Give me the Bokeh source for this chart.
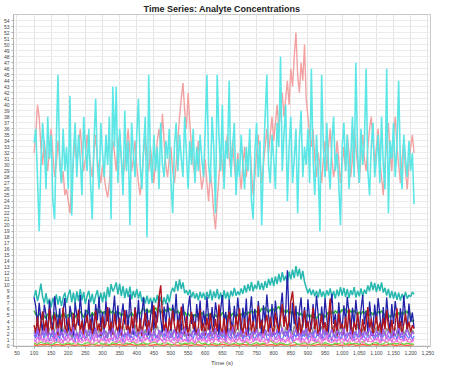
from bokeh.plotting import figure
from bokeh.models import Range1d, FixedTicker, NumeralTickFormatter
from bokeh.embed import file_html
from bokeh.resources import INLINE

TITLE = "Time Series: Analyte Concentrations"
X_LABEL = "Time (s)"
T0 = 100
STEP_FINE = 5
STEP_COARSE = 10
X_TICKS = list(range(50, 1251, 50))
Y_TICKS = list(range(0, 55))

cyan_vals = [
    33.7, 36, 28, 19, 30, 37, 33, 26, 38, 31, 35, 24, 21, 34, 45, 30, 27, 36, 29, 33,
    26, 41.5, 21.6, 32, 37, 28, 35, 31, 25, 38, 33, 29, 36, 27, 21, 34, 41, 30, 26, 37,
    32, 28, 35, 30, 38, 21, 43, 33, 43, 27, 36, 31, 25, 39, 29, 34, 20, 37, 32, 28,
    35, 41, 30, 26, 33, 38, 18, 45, 31, 27, 35, 29, 33, 26, 37, 30, 28, 34, 31, 36,
    27, 22, 33, 37, 29, 35, 31, 28, 38, 32, 26, 34, 30, 36, 27, 33, 29, 35, 31, 28,
    36, 45, 30, 27, 38, 33, 22, 45, 35, 29, 40, 26, 34, 31, 44, 28, 33, 37, 25, 31,
    28, 35, 30, 26, 33, 29, 36, 24, 21, 32, 37, 28, 34, 20, 31, 38, 45, 30, 27, 35,
    31, 26, 37, 33, 48, 29, 35, 40, 24, 33, 38, 27, 31, 36, 22, 34, 39, 28, 33, 30,
    36, 27, 46, 31, 25, 35, 29, 19, 45, 33, 28, 37, 30, 26, 34, 38, 29, 32, 27, 20,
    33, 37, 29, 35, 26, 31, 38, 28, 47, 32, 27, 36, 30, 34, 46, 29, 25, 33, 37, 28,
    31, 35, 27, 38, 30, 26, 46, 22, 34, 31, 37, 28, 33, 44, 30, 26, 35, 31, 28, 34,
    29, 32, 23.5,
]

salmon_vals = [
    32, 35, 40, 38, 33, 30, 34, 31, 29, 33, 36, 32, 28, 30, 34, 31, 27, 29, 25, 26,
    24, 22, 27, 31, 34, 30, 33, 36, 32, 29, 31, 35, 33, 30, 28, 32, 35, 31, 29, 27,
    30, 28, 26, 24.6, 27, 31, 34, 32, 29, 33, 35, 31, 28, 30, 33, 36, 32, 29, 31, 34,
    30, 27, 25, 28, 32, 35, 31, 29, 33, 30, 27, 31, 34, 36, 33, 38.5, 34, 30, 28, 31,
    33, 29, 27, 30, 34, 38, 41, 43.6, 39, 36, 42, 37, 33, 30, 28, 31, 34, 29, 26, 28,
    31, 27, 24, 29, 26, 22, 19.3, 24, 28, 32, 30, 27, 33, 35, 31, 29, 34, 30, 27, 32,
    29, 26, 30, 33, 28, 31, 34, 29, 25, 28, 32, 35, 31, 27, 30, 33, 36, 32, 35, 38,
    34, 37, 40, 36, 39, 42, 38, 41, 44, 40, 46, 43, 48, 52, 45, 42, 47, 44, 50, 41,
    38, 35, 33, 36, 31, 28, 32, 30, 27, 31, 34, 29, 33, 36, 31, 28, 30, 34, 31, 27,
    30, 33, 29, 35, 32, 28, 31, 36, 33, 30, 27, 32, 35, 31, 29, 33, 36, 38, 34, 30,
    33, 36, 31, 28, 25, 30, 34, 37, 32, 29, 35, 38, 33, 30, 27, 31, 34, 29, 26, 30,
    33, 35, 32,
]

teal_vals = [
    8.0, 9.2, 7.4, 8.6, 10.3, 8.1, 7.0, 8.7, 6.9, 7.8, 6.4, 7.9, 7.0, 8.5, 6.8, 8.2, 6.6, 7.9, 8.8, 7.1,
    8.4, 9.3, 7.2, 8.8, 7.0, 9.0, 7.4, 9.4, 7.5, 8.9, 6.9, 8.3, 9.1, 7.2, 8.6, 6.9, 8.3, 9.2, 7.3, 8.8,
    7.2, 8.9, 7.4, 9.7, 8.1, 10.2, 9.0, 9.6, 10.5, 8.5, 10.3, 8.2, 9.9, 7.9, 9.5, 8.1, 9.8, 7.7, 9.1, 8.0,
    9.4, 7.8, 9.0, 7.3, 8.1, 7.0, 8.3, 6.9, 7.9, 6.8, 8.0, 7.1, 8.4, 6.8, 8.1, 6.7, 8.0, 6.9, 8.5, 7.2,
    8.8, 9.6, 8.9, 10.7, 9.1, 11.0, 9.4, 10.5, 8.7, 9.2, 8.4, 9.3, 8.0, 8.9, 7.8, 8.7, 7.5, 8.9, 7.9, 8.8,
    7.6, 8.9, 7.8, 9.3, 7.5, 9.0, 7.9, 9.4, 7.7, 8.8, 7.4, 9.2, 7.8, 8.9, 7.6, 9.1, 8.2, 9.6, 8.3, 9.0,
    8.4, 9.5, 8.6, 10.0, 8.8, 10.2, 9.1, 10.6, 9.0, 10.1, 9.4, 10.8, 9.3, 10.4, 9.2, 10.7, 9.6, 11.1, 10.0, 11.3,
    9.9, 11.5, 10.2, 11.9, 10.5, 12.2, 10.8, 11.6, 10.4, 12.3, 11.0, 12.6, 11.2, 13.2, 11.5, 12.8, 11.0, 12.4, 10.6, 9.6,
    8.7, 9.5, 8.4, 9.3, 8.2, 9.1, 8.0, 9.4, 8.1, 9.0, 7.9, 9.2, 8.3, 9.5, 8.0, 9.1, 7.8, 9.3, 8.2, 9.7,
    8.3, 9.6, 8.1, 9.4, 7.9, 9.2, 8.4, 9.7, 8.0, 9.1, 8.2, 9.5, 8.1, 9.3, 8.6, 10.0, 9.0, 10.6, 9.2, 10.4,
    8.9, 10.2, 9.1, 10.5, 8.8, 9.6, 8.3, 9.4, 7.9, 9.1, 7.8, 8.9, 7.6, 8.8, 7.5, 8.6, 7.7, 8.9, 7.8, 8.4,
    8.1, 8.9, 8.5,
]

green_vals = [
    5.8, 5.2, 4.6, 5.4, 4.9, 4.3, 5.0, 4.5, 5.3, 4.8, 4.2, 4.9, 5.5, 4.7, 5.1, 4.4, 4.9, 5.6, 5.0, 4.6,
    5.2, 4.8, 5.5, 5.1, 4.6, 5.3, 4.9, 5.7, 5.2, 4.7, 5.4, 5.9, 5.3, 4.8, 5.5, 5.0, 5.6, 6.1, 5.4, 5.8,
    5.2, 5.7, 5.1, 5.6, 6.0, 5.4, 5.8, 5.2, 5.7, 5.1, 5.5, 4.9, 5.3, 4.8, 5.2, 4.6, 5.0, 5.5, 4.9, 5.4,
    5.0, 5.6, 5.2, 5.8, 6.2, 5.7, 6.1, 5.5, 5.9, 5.3, 5.8, 6.3, 5.7, 6.0, 5.4, 5.9, 5.5, 6.0, 5.6, 6.2,
    5.8, 6.3, 5.9, 5.4, 5.8, 5.3, 5.7, 5.1, 5.6, 5.0, 5.4, 4.9, 5.3, 4.7, 5.2, 4.8, 5.3, 4.9, 5.5, 5.1,
    4.7, 5.2, 4.8, 5.4, 5.0, 4.6, 5.1, 4.7, 5.3, 4.9, 5.5, 5.1, 4.6, 5.0, 4.5, 4.9, 5.4, 5.0, 4.6, 5.2,
    4.8, 5.3, 4.9, 5.5, 5.1, 5.6, 5.2, 5.8, 5.4, 5.9, 5.5, 6.0, 5.6, 6.2, 5.8, 6.3, 5.9, 5.5, 6.0, 5.6,
    6.1, 5.7, 6.2, 6.5, 5.9, 6.3, 5.8, 5.4, 5.9, 5.3, 5.7, 5.2, 5.6, 5.1, 5.5, 5.0, 5.4, 4.9, 5.3, 4.8,
    5.2, 4.7, 5.1, 4.6, 5.0, 4.5, 4.9, 5.3, 4.8, 5.2, 4.7, 5.1, 5.6, 5.2, 5.7, 5.3, 5.8, 5.4, 5.9, 5.5,
    6.0, 5.6, 6.1, 5.7, 5.3, 5.8, 5.4, 5.9, 5.5, 5.1, 5.6, 5.2, 5.7, 5.3, 5.8, 5.4, 5.0, 5.5, 5.1, 5.6,
    5.2, 5.7, 5.3, 5.8, 5.4, 5.0, 5.5, 5.1, 4.7, 5.2, 4.8, 5.3, 4.9, 5.5, 5.0, 5.6, 5.2, 5.8, 5.4, 6.0,
    4.5, 4.0, 4.3,
]

navy_vals = [
    8.0, 6.5, 3.2, 7.1, 4.4, 2.1, 6.8, 5.2, 1.9, 7.5, 4.1, 2.8, 8.2, 5.5, 3.0, 6.2, 1.8, 5.8, 7.9, 3.6,
    2.4, 6.6, 4.9, 1.7, 7.2, 5.0, 3.3, 8.4, 4.6, 2.2, 6.0, 3.8, 7.7, 2.6, 5.3, 1.9, 6.9, 4.2, 8.1, 3.1,
    5.6, 2.3, 7.4, 4.0, 6.3, 1.6, 5.1, 8.3, 3.4, 6.7, 2.0, 4.8, 7.0, 3.5, 5.9, 2.5, 8.5, 4.3, 1.8, 6.4,
    3.7, 7.6, 2.9, 5.4, 8.0, 3.2, 6.1, 1.7, 4.7, 7.3, 2.6, 5.7, 3.9, 8.2, 4.5, 2.1, 6.5, 3.3, 7.1, 5.0,
    2.4, 6.8, 4.1, 8.6, 3.0, 5.5, 1.9, 7.0, 4.4, 2.7, 6.2, 8.3, 3.6, 5.2, 1.8, 6.9, 4.0, 7.5, 2.5, 5.8,
    3.4, 8.1, 4.6, 2.0, 6.4, 3.1, 7.2, 5.1, 1.7, 6.0, 8.4, 3.8, 5.6, 2.3, 7.7, 4.2, 2.9, 6.6, 3.5, 8.0,
    4.9, 2.2, 6.3, 3.6, 7.8, 1.9, 5.4, 8.2, 3.3, 6.1, 2.5, 7.4, 4.5, 1.8, 6.7, 3.9, 8.5, 5.0, 2.6, 6.9,
    3.2, 7.5, 4.8, 2.1, 6.2, 8.8, 3.7, 5.5, 12.5, 4.0, 2.4, 7.1, 3.5, 6.6, 1.9, 5.8, 8.0, 3.0, 6.4, 2.3,
    7.7, 4.4, 2.7, 6.9, 3.8, 8.3, 5.1, 1.8, 6.5, 3.4, 7.9, 4.7, 2.2, 6.1, 8.6, 3.6, 5.3, 2.0, 7.2, 4.1,
    2.8, 6.7, 3.9, 8.1, 5.4, 1.9, 6.3, 3.2, 7.6, 4.6, 2.3, 6.0, 8.4, 3.5, 5.7, 2.1, 7.3, 4.3, 2.6, 6.8,
    3.7, 7.9, 5.2, 1.8, 6.4, 3.1, 8.0, 4.5, 2.4, 6.9, 3.6, 7.4, 5.0, 2.0, 6.2, 3.3, 8.3, 4.8, 2.7, 7.0,
    3.9, 5.5, 2.9,
]

crimson_vals = [
    3.4, 2.1, 4.8, 1.6, 3.9, 5.7, 2.4, 4.2, 1.9, 6.1, 3.0, 2.3, 5.2, 3.8, 1.7, 4.5, 2.8, 6.3, 3.3, 2.0,
    4.7, 3.1, 1.8, 5.4, 2.6, 3.9, 6.0, 2.2, 4.1, 1.5, 3.6, 5.1, 2.7, 4.4, 1.9, 3.2, 5.8, 2.5, 3.7, 1.6,
    4.9, 2.9, 3.5, 6.4, 2.1, 4.0, 1.8, 5.3, 3.2, 2.4, 4.6, 1.7, 3.8, 5.9, 2.6, 3.4, 1.9, 4.8, 2.8, 6.2,
    3.1, 2.0, 4.5, 1.6, 3.7, 5.5, 2.3, 4.2, 1.8, 3.3, 6.7, 2.9, 4.4, 8.1, 10.0, 5.2, 2.5, 3.9, 1.7, 4.6,
    2.7, 5.8, 3.4, 1.9, 4.3, 2.2, 6.5, 3.6, 2.0, 4.9, 1.6, 3.5, 5.6, 2.8, 4.0, 1.8, 3.1, 6.0, 2.4, 3.8,
    1.7, 4.7, 2.6, 5.3, 3.2, 1.9, 4.4, 2.3, 6.8, 3.0, 2.1, 4.6, 1.6, 3.9, 5.7, 2.5, 3.4, 1.8, 4.9, 2.7,
    6.2, 3.3, 2.0, 4.5, 1.7, 3.6, 5.4, 2.4, 4.1, 1.9, 3.2, 6.6, 2.8, 4.3, 1.6, 3.7, 5.1, 2.2, 4.8, 3.0,
    1.8, 5.5, 3.4, 2.3, 4.6, 6.9, 3.1, 5.0, 2.6, 4.2, 7.4, 9.0, 5.6, 3.3, 2.0, 4.7, 1.7, 3.8, 5.9, 2.5,
    4.1, 1.9, 3.5, 6.3, 2.7, 4.4, 1.6, 3.2, 5.2, 2.4, 3.9, 1.8, 4.6, 7.8, 3.0, 2.1, 4.3, 1.7, 5.4, 2.9,
    3.6, 1.9, 4.8, 2.3, 6.1, 3.4, 1.7, 4.0, 2.6, 5.5, 3.1, 1.8, 4.4, 2.2, 3.7, 6.4, 2.8, 4.5, 1.6, 3.3,
    5.0, 2.4, 3.8, 1.9, 4.6, 2.7, 5.9, 3.2, 2.0, 4.3, 1.7, 3.5, 6.2, 2.5, 4.1, 1.8, 3.6, 5.3, 2.6, 4.0,
    2.2, 3.4, 2.8,
]

gray_vals = [
    2.6, 1.9, 3.1, 2.2, 1.5, 2.8, 3.6, 2.0, 1.4, 2.7, 3.3, 1.8, 2.4, 3.9, 2.1, 1.6, 2.9, 2.3, 3.4, 1.7,
    2.5, 3.0, 1.3, 2.2, 3.5, 2.0, 1.7, 2.8, 3.2, 1.9, 2.4, 1.5, 3.1, 2.6, 1.8, 3.7, 2.3, 1.6, 2.9, 2.1,
    3.3, 1.9, 2.5, 1.4, 2.8, 3.4, 2.0, 1.7, 3.0, 2.4, 1.6, 2.9, 3.6, 2.2, 1.5, 2.7, 3.1, 1.8, 2.3, 3.5,
    2.1, 1.6, 2.8, 3.2, 1.9, 2.5, 1.4, 3.0, 2.2, 3.8, 1.7, 2.6, 3.3, 2.0, 1.5, 2.9, 2.4, 3.6, 1.8, 2.3,
    3.1, 1.6, 2.7, 2.1, 3.4, 1.9, 2.5, 3.0, 1.5, 2.8, 2.2, 3.5, 1.7, 2.4, 3.2, 2.0, 1.6, 2.9, 3.7, 2.1,
    1.8, 2.6, 3.3, 1.5, 2.3, 3.0, 1.9, 2.7, 3.6, 2.0, 1.6, 2.5, 3.2, 1.8, 2.9, 2.2, 3.4, 1.7, 2.4, 3.1,
    2.0, 1.5, 2.8, 3.5, 2.2, 1.8, 3.0, 2.5, 1.6, 2.9, 3.7, 2.1, 1.9, 2.6, 3.3, 1.7, 2.4, 3.0, 2.2, 1.5,
    2.7, 3.4, 1.9, 2.5, 3.9, 2.2, 1.6, 3.1, 2.4, 4.2, 2.8, 1.8, 3.3, 2.3, 1.7, 2.9, 3.6, 2.0, 2.6, 1.5,
    3.0, 2.3, 1.8, 2.8, 3.5, 2.1, 1.6, 2.6, 3.2, 1.9, 2.4, 3.7, 2.0, 1.7, 2.9, 3.3, 2.2, 1.5, 2.7, 3.1,
    1.9, 2.5, 3.4, 2.1, 1.6, 2.8, 3.0, 1.8, 2.3, 3.6, 2.0, 1.5, 2.7, 3.2, 2.2, 1.7, 2.9, 3.5, 1.9, 2.4,
    3.1, 1.6, 2.6, 3.3, 2.0, 1.8, 2.9, 2.3, 3.7, 1.7, 2.5, 3.0, 2.1, 1.5, 2.8, 3.4, 1.9, 2.4, 3.0, 2.2,
    1.7, 2.6, 2.1,
]

purple_vals = [
    2.2, 1.5, 2.8, 1.9, 1.2, 2.5, 1.7, 3.0, 1.4, 2.1, 1.8, 2.6, 1.1, 2.0, 2.9, 1.6, 2.3, 1.3, 2.7, 1.9,
    1.4, 2.4, 1.8, 3.1, 1.5, 2.2, 1.0, 2.6, 1.9, 1.3, 2.8, 2.0, 1.6, 2.5, 1.2, 2.1, 2.9, 1.7, 1.4, 2.3,
    1.8, 2.7, 1.3, 2.0, 2.5, 1.5, 3.0, 1.9, 1.2, 2.4, 1.7, 2.8, 1.4, 2.1, 1.6, 2.6, 1.1, 2.2, 2.9, 1.8,
    1.5, 2.3, 1.9, 2.7, 1.3, 2.0, 1.6, 3.2, 2.1, 1.4, 2.5, 1.8, 1.2, 2.6, 1.9, 2.2, 1.5, 2.9, 1.7, 2.4,
    1.3, 2.0, 2.7, 1.6, 2.3, 1.1, 2.5, 1.8, 3.0, 1.5, 2.1, 1.9, 1.4, 2.6, 2.0, 1.7, 2.8, 1.3, 2.2, 1.6,
    2.4, 1.9, 1.2, 2.7, 1.5, 2.2, 2.9, 1.7, 1.4, 2.3, 1.8, 2.6, 1.1, 2.0, 2.5, 1.6, 3.1, 1.9, 1.4, 2.2,
    1.7, 2.5, 1.3, 2.1, 2.8, 1.6, 2.0, 1.2, 2.4, 1.9, 2.7, 1.5, 2.2, 1.8, 1.3, 2.6, 2.0, 1.6, 2.9, 1.4,
    2.3, 1.8, 2.6, 1.2, 2.0, 3.0, 1.7, 2.4, 1.5, 2.8, 1.9, 1.3, 2.2, 2.7, 1.6, 2.1, 1.4, 2.5, 1.8, 2.9,
    1.5, 2.2, 1.9, 1.3, 2.6, 2.0, 1.6, 2.4, 1.1, 2.8, 1.8, 2.3, 1.4, 2.0, 2.7, 1.7, 1.3, 2.5, 1.9, 2.2,
    1.6, 2.9, 1.4, 2.1, 1.8, 2.6, 1.2, 2.3, 2.0, 1.5, 2.7, 1.9, 1.3, 2.4, 1.7, 2.2, 3.0, 1.6, 2.0, 1.4,
    2.5, 1.8, 2.2, 1.3, 2.8, 1.9, 1.5, 2.4, 2.0, 1.2, 2.6, 1.7, 2.1, 2.9, 1.6, 2.3, 1.4, 2.0, 2.7, 1.8,
    1.5, 2.2, 1.9,
]

violet_vals = [
    1.1, 0.6, 1.5, 0.9, 1.8, 0.7, 1.3, 0.5, 1.6, 1.0, 0.8, 1.4, 0.6, 1.9, 1.1, 0.7, 1.2, 0.4, 1.5, 0.9,
    1.7, 0.8, 1.3, 0.6, 1.0, 1.6, 0.5, 1.2, 0.9, 1.8, 0.7, 1.4, 1.0, 0.6, 1.5, 0.8, 2.0, 1.1, 0.5, 1.3,
    0.9, 1.6, 0.7, 1.2, 0.5, 1.4, 1.0, 1.8, 0.6, 1.1, 1.5, 0.8, 1.3, 0.4, 1.7, 0.9, 1.2, 0.6, 1.4, 1.0,
    0.7, 1.5, 1.1, 0.5, 1.9, 0.8, 1.3, 1.0, 0.6, 1.6, 0.9, 1.2, 0.5, 1.7, 1.1, 0.7, 1.4, 0.8, 2.1, 1.0,
    0.6, 1.3, 0.9, 1.6, 0.5, 1.2, 1.8, 0.7, 1.1, 0.8, 1.5, 0.6, 1.3, 1.0, 0.4, 1.7, 0.9, 1.2, 0.7, 1.4,
    1.0, 0.5, 1.6, 0.8, 1.3, 0.6, 1.9, 1.1, 0.7, 1.4, 0.9, 1.2, 0.5, 1.7, 1.0, 0.8, 1.5, 0.6, 1.2, 0.9,
    1.6, 0.7, 1.1, 0.5, 1.4, 1.0, 0.8, 1.8, 0.6, 1.3, 0.9, 1.5, 0.7, 1.2, 2.0, 0.8, 1.1, 0.5, 1.6, 1.0,
    0.7, 1.4, 0.9, 1.7, 0.6, 1.2, 1.0, 0.5, 1.5, 0.8, 1.9, 1.1, 0.7, 1.3, 0.9, 1.6, 0.6, 1.2, 0.8, 1.4,
    1.0, 0.5, 1.7, 0.8, 1.3, 0.6, 1.1, 1.5, 0.7, 1.2, 0.9, 1.8, 0.6, 1.0, 1.4, 0.7, 1.2, 0.5, 1.6, 0.9,
    1.3, 0.8, 1.5, 0.6, 1.1, 1.9, 0.7, 1.2, 0.9, 1.4, 0.5, 1.6, 1.0, 0.8, 1.3, 0.6, 1.7, 1.1, 0.7, 1.2,
    0.9, 1.5, 0.6, 1.3, 1.0, 0.7, 1.8, 0.8, 1.2, 0.5, 1.4, 1.0, 0.6, 1.6, 0.9, 1.1, 0.7, 1.5, 0.8, 1.2,
    1.0, 0.6, 1.3,
]

royal_vals = [
    1.8, 1.2, 2.4, 0.9, 1.6, 2.1, 1.0, 2.7, 1.4, 0.8, 1.9, 1.3, 2.3, 0.7, 1.7, 1.1, 2.5, 1.5, 0.9, 2.0,
    1.3, 2.6, 1.0, 1.8, 0.6, 2.2, 1.4, 1.9, 0.8, 2.4, 1.2, 1.6, 2.8, 1.0, 1.5, 0.7, 2.1, 1.3, 1.8, 1.1,
    2.3, 0.9, 1.7, 1.2, 2.6, 1.5, 0.8, 2.0, 1.4, 1.0, 2.5, 1.7, 0.6, 1.9, 1.3, 2.2, 1.1, 1.6, 0.9, 2.4,
    1.4, 1.8, 0.7, 2.1, 1.2, 2.7, 1.5, 1.0, 1.9, 0.8, 2.3, 1.3, 1.7, 1.0, 2.5, 1.6, 0.9, 2.0, 1.4, 1.1,
    2.2, 1.5, 0.8, 1.9, 1.2, 2.4, 1.0, 1.7, 2.9, 1.3, 0.7, 2.0, 1.6, 1.1, 2.3, 1.4, 0.9, 1.8, 1.2, 2.6,
    1.0, 1.6, 2.1, 0.8, 1.5, 1.2, 2.4, 1.7, 0.9, 2.0, 1.3, 1.8, 0.7, 2.2, 1.5, 1.1, 2.6, 1.4, 1.0, 1.9,
    1.2, 2.3, 0.8, 1.7, 1.4, 2.0, 1.1, 2.5, 1.6, 0.9, 1.8, 1.3, 2.2, 1.0, 1.5, 2.7, 1.2, 0.8, 1.9, 1.4,
    2.1, 1.0, 1.7, 2.4, 1.3, 0.9, 1.8, 1.5, 2.6, 1.1, 1.6, 0.7, 2.0, 1.4, 2.3, 1.2, 0.9, 1.9, 1.5, 2.2,
    1.0, 1.7, 1.3, 2.5, 0.8, 1.6, 2.0, 1.2, 1.8, 0.9, 2.3, 1.4, 1.1, 1.9, 0.7, 2.1, 1.5, 1.2, 2.6, 1.0,
    1.6, 2.0, 0.9, 1.4, 2.2, 1.1, 1.8, 0.8, 2.4, 1.3, 1.7, 1.0, 2.1, 1.5, 0.9, 1.9, 1.2, 2.5, 1.4, 1.0,
    1.8, 1.3, 2.3, 0.8, 1.6, 2.0, 1.1, 1.7, 0.9, 2.2, 1.4, 1.9, 1.0, 2.6, 1.3, 1.6, 0.8, 2.1, 1.5, 1.2,
    1.9, 1.0, 1.6,
]

pink_vals = [
    0.8, 0.4, 1.1, 0.6, 0.9, 0.3, 1.2, 0.7, 0.5, 1.0, 0.6, 1.3, 0.4, 0.8, 0.5, 1.1, 0.7, 0.3, 0.9, 0.6,
    1.0, 0.4, 1.2, 0.8, 0.5, 0.9, 0.3, 1.1, 0.6, 0.8, 0.4, 1.0, 0.7, 1.4, 0.5, 0.8, 0.6, 1.1, 0.4, 0.9,
    0.7, 0.3, 1.2, 0.6, 0.9, 0.5, 1.0, 0.4, 0.8, 1.3, 0.6, 0.9, 0.4, 1.1, 0.7, 0.5, 1.0, 0.3, 0.8, 0.6,
    1.2, 0.5, 0.9, 0.4, 0.7, 1.1, 0.6, 0.8, 0.3, 1.0, 0.7, 0.5, 1.2, 0.6, 0.9, 0.4, 0.8, 1.1, 0.5, 0.7,
    0.4, 1.0, 0.6, 0.9, 0.3, 1.3, 0.7, 0.5, 0.8, 1.0, 0.4, 0.9, 0.6, 1.1, 0.5, 0.8, 0.3, 1.0, 0.7, 0.6,
    1.2, 0.4, 0.9, 0.6, 1.0, 0.5, 0.8, 0.4, 1.1, 0.7, 0.5, 0.9,
]

lime_vals = [
    0.4, 0.2, 0.6, 0.3, 0.5, 0.1, 0.4, 0.7, 0.2, 0.3, 0.5, 0.2, 0.6, 0.3, 0.1, 0.4, 0.5, 0.2, 0.3, 0.6,
    0.2, 0.4, 0.1, 0.5, 0.3, 0.7, 0.2, 0.4, 0.3, 0.6, 0.1, 0.3, 0.5, 0.2, 0.4, 0.6, 0.3, 0.2, 0.5, 0.4,
    0.1, 0.3, 0.6, 0.2, 0.4, 0.3, 0.5, 0.2, 0.7, 0.3, 0.4, 0.1, 0.5, 0.3, 0.2, 0.6, 0.4, 0.2, 0.3, 0.5,
    0.2, 0.4, 0.6, 0.1, 0.3, 0.5, 0.2, 0.4, 0.3, 0.8, 0.4, 0.2, 0.5, 0.3, 0.1, 0.4, 0.6, 0.2, 0.3, 0.5,
    0.3, 0.2, 0.4, 0.6, 0.2, 0.5, 0.3, 0.1, 0.4, 0.3, 0.6, 0.2, 0.5, 0.3, 0.4, 0.2, 0.7, 0.3, 0.1, 0.4,
    0.5, 0.2, 0.3, 0.6, 0.2, 0.4, 0.3, 0.5, 0.2, 0.4, 0.3, 0.2,
]

orange_vals = [
    0.1, 0.05, 0.15, 0.1, 0.2, 0.05, 0.1, 0.15, 0.05, 0.1, 0.2, 0.1, 0.05, 0.15, 0.1, 0.05, 0.1, 0.2, 0.1, 0.05,
    0.15, 0.1, 0.05, 0.2, 0.1, 0.15, 0.05, 0.1, 0.2, 0.1, 0.05, 0.15, 0.1, 0.2, 0.05, 0.1, 0.15, 0.1, 0.05, 0.2,
    0.1, 0.15, 0.05, 0.1, 0.2, 0.1, 0.05, 0.15, 0.1, 0.05, 0.2, 0.1, 0.15, 0.05, 0.1, 0.2, 0.1, 0.05, 0.15, 0.1,
    0.05, 0.2, 0.1, 0.15, 0.05, 0.1, 0.1, 0.2, 0.05, 0.15, 0.1, 0.05, 0.2, 0.1, 0.15, 0.05, 0.1, 0.2, 0.1, 0.05,
    0.15, 0.1, 0.05, 0.2, 0.1, 0.15, 0.05, 0.1, 0.2, 0.1, 0.05, 0.15, 0.1, 0.2, 0.05, 0.1, 0.15, 0.1, 0.05, 0.2,
    0.1, 0.15, 0.05, 0.1, 0.2, 0.1, 0.05, 0.15, 0.1, 0.05, 0.1, 0.15,
]

# (values, step, colour, width) in drawing order
SERIES = [
    (orange_vals, STEP_COARSE, "#ff5a36", 1.3),
    (lime_vals, STEP_COARSE, "#6fd34a", 1.3),
    (pink_vals, STEP_COARSE, "#ff8fd0", 1.3),
    (royal_vals, STEP_FINE, "#5b78ff", 1.2),
    (gray_vals, STEP_FINE, "#8c8c8c", 1.3),
    (green_vals, STEP_FINE, "#2fb52f", 1.5),
    (teal_vals, STEP_FINE, "#27b8b0", 1.5),
    (navy_vals, STEP_FINE, "#2020a8", 1.3),
    (crimson_vals, STEP_FINE, "#b0141c", 1.4),
    (purple_vals, STEP_FINE, "#9a5cf2", 1.3),
    (violet_vals, STEP_FINE, "#e070e6", 1.2),
    (salmon_vals, STEP_FINE, "#f2a2a2", 1.4),
    (cyan_vals, STEP_FINE, "#5ce6e6", 1.6),
]

FONT = "Liberation Sans"

p = figure(width=436, height=368, output_backend="svg", toolbar_location=None,
           title=TITLE, x_range=Range1d(40, 1258), y_range=Range1d(-0.15, 55),
           min_border_left=2, min_border_right=6, min_border_top=0, min_border_bottom=0)
p.title.align = "center"
p.title.text_font = FONT
p.title.text_font_size = "9px"
p.title.text_font_style = "bold"
p.title.text_color = "#222222"
p.title.standoff = 2

p.background_fill_color = "white"
p.outline_line_color = "#c8c8c8"

p.xaxis.ticker = FixedTicker(ticks=X_TICKS)
p.xaxis.formatter = NumeralTickFormatter(format="0,0")
p.yaxis.ticker = FixedTicker(ticks=Y_TICKS)
p.xaxis.axis_label = X_LABEL
for ax in (p.xaxis[0], p.yaxis[0]):
    ax.major_label_text_font = FONT
    ax.major_label_text_font_size = "5px"
    ax.major_label_text_color = "#444444"
    ax.major_label_standoff = 2
    ax.major_tick_out = 2
    ax.major_tick_in = 0
    ax.minor_tick_out = 0
    ax.minor_tick_in = 0
    ax.axis_line_color = "#b0b0b0"
    ax.major_tick_line_color = "#b0b0b0"
p.xaxis.axis_label_text_font = FONT
p.xaxis.axis_label_text_font_size = "6px"
p.xaxis.axis_label_text_font_style = "normal"
p.xaxis.axis_label_text_color = "#444444"
p.xaxis.axis_label_standoff = 2

p.xgrid.grid_line_color = "#e4e4e4"
p.ygrid.grid_line_color = "#ececec"

for vals, step, color, width in SERIES:
    xs = [T0 + step * i for i in range(len(vals))]
    p.line(xs, vals, line_color=color, line_width=width)

open("out.html", "w").write(file_html(p, INLINE))
